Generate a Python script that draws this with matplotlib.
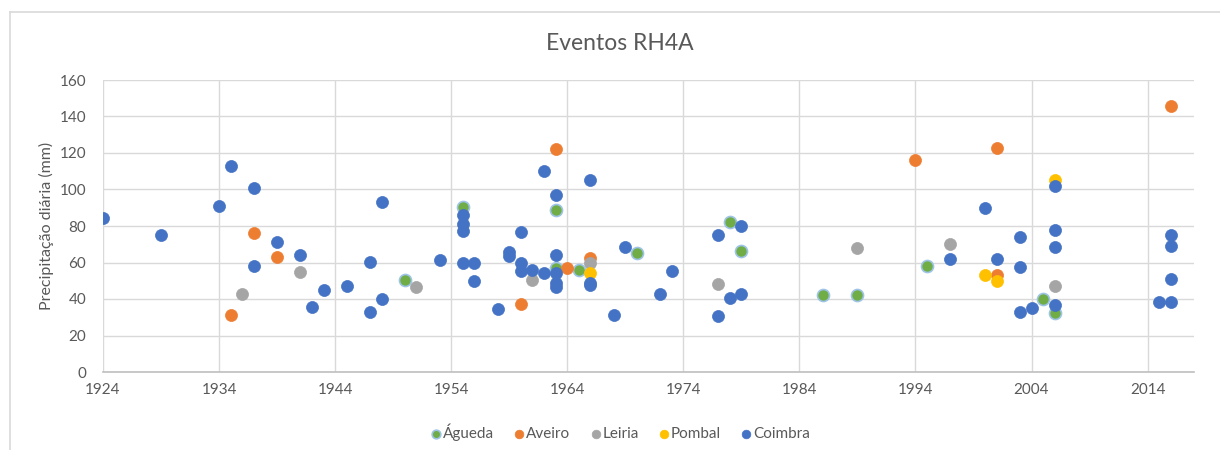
import matplotlib.pyplot as plt
from matplotlib.lines import Line2D

plt.rcParams['font.family'] = ['Lato', 'DejaVu Sans']

# anos / precipitação diária (mm) por estação
agueda_x = [1950, 1955, 1963, 1963, 1965, 1970, 1978, 1979, 1986, 1989, 1995, 2005, 2006]
agueda_y = [50.5, 90.5, 89, 57, 56, 65, 82, 66.5, 42, 42, 58, 40, 32.5]

aveiro_x = [1935, 1937, 1939, 1960, 1963, 1964, 1966, 1994, 2001, 2001, 2016]
aveiro_y = [31.5, 76, 63, 37.5, 122, 57, 62.5, 116, 123, 53, 145.5]

leiria_x = [1936, 1941, 1951, 1961, 1966, 1977, 1989, 1997, 2006]
leiria_y = [42.5, 55, 46.5, 50.5, 59.5, 48, 68, 70, 47]

pombal_x = [1966, 2000, 2001, 2006]
pombal_y = [54, 53, 50, 105]

coimbra_x = [1924, 1929, 1934, 1935, 1937, 1937, 1939, 1941, 1942, 1943, 1945,
             1947, 1947, 1948, 1948, 1953, 1955, 1955, 1955, 1955, 1956, 1956,
             1958, 1959, 1959, 1960, 1960, 1960, 1961, 1962, 1962, 1963, 1963,
             1963, 1963, 1963, 1966, 1966, 1966, 1968, 1969, 1972, 1973, 1977,
             1977, 1978, 1979, 1979, 1997, 2000, 2001, 2003, 2003, 2003, 2004,
             2006, 2006, 2006, 2006, 2015, 2016, 2016, 2016, 2016]
coimbra_y = [84.5, 75, 91, 113, 101, 58, 71.5, 64, 35.5, 45, 47,
             60.5, 33, 93, 40, 61.5, 86, 81, 77, 60, 60, 50,
             34.5, 66, 63.5, 76.5, 59.5, 55.5, 56, 110, 54, 97, 64,
             54.5, 48.5, 46.5, 105, 49, 47.5, 31, 68.5, 43, 55.5, 75,
             30.5, 40.5, 80, 42.5, 62, 90, 62, 74, 57.5, 33, 35,
             102, 78, 68.5, 36.5, 38.5, 75, 69, 51, 38.5]

fig = plt.figure(figsize=(12.2, 4.5), dpi=100)
ax = fig.add_axes([103 / 1220, 1 - 372 / 450, 1091 / 1220, 292 / 450])

# moldura do gráfico (topo e esquerda visíveis)
fig.add_artist(Line2D([10 / 1220, 10 / 1220], [0, 1 - 12 / 450], color='#d9d9d9', lw=1.2))
fig.add_artist(Line2D([10 / 1220, 1], [1 - 12 / 450, 1 - 12 / 450], color='#d9d9d9', lw=1.2))

ms = 75
ax.scatter(agueda_x, agueda_y, s=ms, color='#70AD47', edgecolors='#9DC3E6', linewidths=1.2, label='Águeda', zorder=3)
ax.scatter(aveiro_x, aveiro_y, s=ms, color='#ED7D31', edgecolors='#ED7D31', linewidths=0.5, label='Aveiro', zorder=3)
ax.scatter(leiria_x, leiria_y, s=ms, color='#A5A5A5', edgecolors='#A5A5A5', linewidths=0.5, label='Leiria', zorder=3)
ax.scatter(pombal_x, pombal_y, s=ms, color='#FFC000', edgecolors='#FFC000', linewidths=0.5, label='Pombal', zorder=3)
ax.scatter(coimbra_x, coimbra_y, s=ms, color='#4472C4', edgecolors='#4472C4', linewidths=0.5, label='Coimbra', zorder=3)

ax.set_xlim(1924, 2018)
ax.set_ylim(0, 160)
ax.set_xticks(range(1924, 2018, 10))
ax.set_yticks(range(0, 161, 20))
ax.grid(True, color='#d9d9d9', lw=1)
ax.set_axisbelow(True)
for s in ['top', 'right', 'left']:
    ax.spines[s].set_visible(False)
ax.spines['bottom'].set_color('#bfbfbf')
ax.spines['bottom'].set_linewidth(1.2)
ax.tick_params(length=0, labelsize=11, labelcolor='#595959', pad=8)
ax.tick_params(axis='y', pad=12)

ax.set_ylabel('Precipitação diária (mm)', fontsize=11.5, color='#595959', labelpad=4)
fig.text(0.508, 1 - 44 / 450, 'Eventos RH4A', ha='center', va='center', fontsize=16.5, color='#595959')

fig.legend(loc='center', bbox_to_anchor=(0.508, 1 - 432 / 450), ncol=5, frameon=False,
           fontsize=11, labelcolor='#595959', handletextpad=0.0, columnspacing=1.2,
           handlelength=0.9, markerscale=0.72)

fig.savefig('out.png', dpi=100)
